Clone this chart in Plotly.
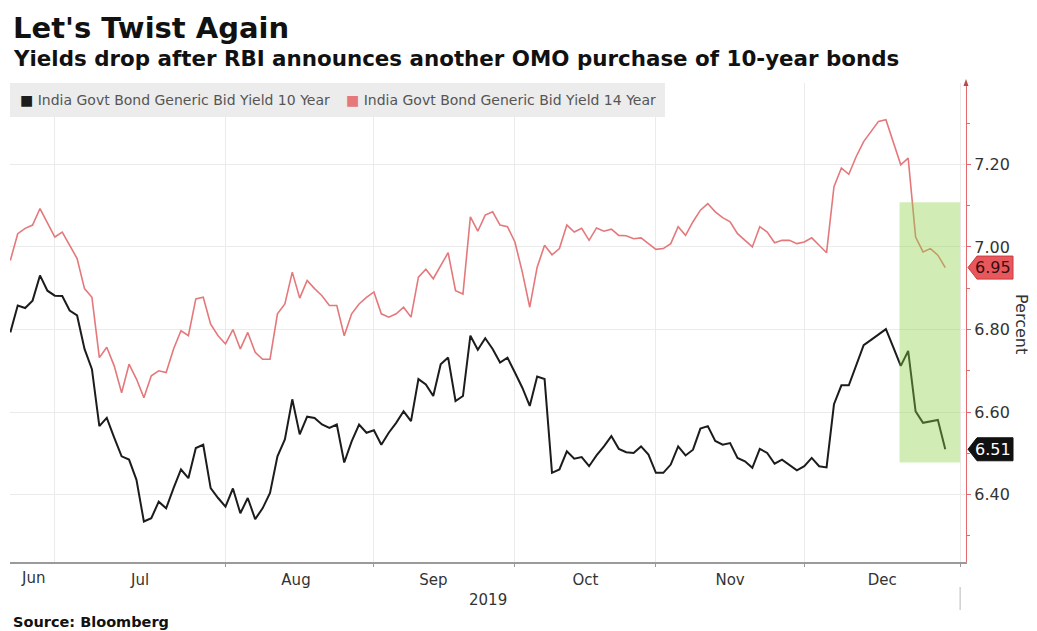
import pandas as pd
import plotly.graph_objects as go

# ---------------------------------------------------------------- data
# Indian bond-market holidays inside the window (no quotes on these days)
HOLIDAYS = ["2019-08-12", "2019-08-15", "2019-09-02", "2019-09-10",
            "2019-10-02", "2019-10-08", "2019-10-21", "2019-10-28",
            "2019-11-12", "2019-12-25"]
START, END = "2019-06-21", "2019-12-30"

SERIES_10Y = "India Govt Bond Generic Bid Yield 10 Year"
SERIES_14Y = "India Govt Bond Generic Bid Yield 14 Year"

YIELD_10Y = [
    6.793, 6.858, 6.852, 6.870, 6.931, 6.894,                                   # Jun
    6.882, 6.881, 6.846, 6.834, 6.753, 6.704, 6.566, 6.586, 6.538, 6.493,
    6.485, 6.436, 6.335, 6.343, 6.383, 6.367, 6.416, 6.461, 6.440, 6.513,
    6.521, 6.416, 6.392,                                                        # Jul
    6.371, 6.415, 6.355, 6.392, 6.341, 6.367, 6.404, 6.493, 6.534, 6.631,
    6.546, 6.589, 6.586, 6.570, 6.562, 6.570, 6.478, 6.529, 6.570, 6.550,       # Aug
    6.556, 6.521, 6.550, 6.574, 6.602, 6.578, 6.680, 6.667, 6.639, 6.716,
    6.732, 6.627, 6.639, 6.785, 6.751, 6.779, 6.753, 6.720, 6.732,              # Sep
    6.696, 6.659, 6.615, 6.686, 6.680, 6.453, 6.461, 6.505, 6.487, 6.491,
    6.469, 6.495, 6.517, 6.542, 6.511, 6.503, 6.501, 6.517, 6.497,              # Oct
    6.453, 6.453, 6.473, 6.517, 6.495, 6.509, 6.560, 6.566, 6.530, 6.521,
    6.525, 6.489, 6.481, 6.465, 6.511, 6.501, 6.475, 6.485, 6.473, 6.459,       # Nov
    6.469, 6.489, 6.469, 6.466, 6.619, 6.665, 6.665, 6.712, 6.762, 6.775,
    6.789, 6.801, 6.757, 6.712, 6.748, 6.602, 6.574, 6.578, 6.581, 6.51,        # Dec
]

YIELD_14Y = [
    6.967, 7.032, 7.045, 7.053, 7.093, 7.060,                                   # Jun
    7.024, 7.036, 7.004, 6.972, 6.899, 6.878, 6.732, 6.757, 6.712, 6.647,
    6.716, 6.680, 6.635, 6.688, 6.700, 6.696, 6.753, 6.797, 6.785, 6.874,
    6.878, 6.813, 6.785,                                                        # Jul
    6.765, 6.800, 6.753, 6.793, 6.745, 6.728, 6.728, 6.838, 6.862, 6.939,
    6.876, 6.919, 6.899, 6.882, 6.858, 6.858, 6.785, 6.838, 6.862, 6.878,       # Aug
    6.891, 6.838, 6.830, 6.838, 6.854, 6.830, 6.927, 6.946, 6.923, 6.955,
    6.986, 6.894, 6.886, 7.073, 7.038, 7.077, 7.085, 7.053, 7.049,              # Sep
    7.012, 6.939, 6.854, 6.951, 7.004, 6.981, 6.996, 7.053, 7.036, 7.045,
    7.016, 7.046, 7.038, 7.043, 7.028, 7.027, 7.020, 7.022, 7.008,              # Oct
    6.994, 6.996, 7.008, 7.049, 7.028, 7.061, 7.089, 7.105, 7.085, 7.071,
    7.061, 7.032, 7.016, 7.000, 7.049, 7.036, 7.010, 7.016, 7.016, 7.008,       # Nov
    7.012, 7.022, 7.004, 6.986, 7.146, 7.191, 7.176, 7.219, 7.255, 7.280,
    7.304, 7.308, 7.255, 7.199, 7.215, 7.024, 6.988, 6.996, 6.980, 6.95,        # Dec
]

# highlighted window after the OMO announcement
HIGHLIGHT_X = ("2019-12-18 20:00", "2020-01-01 00:00")
HIGHLIGHT_Y = (6.478, 7.108)

dates = pd.bdate_range(START, END, freq="C", holidays=HOLIDAYS)
assert len(dates) == len(YIELD_10Y) == len(YIELD_14Y)

# ---------------------------------------------------------------- styling
BLACK = "#1c1c1c"
RED = "#e4787b"
RED_AXIS = "#e26a6e"
GRID = "#ebebeb"
TEXT = "#333333"
FONT = "DejaVu Sans"
Y_RANGE = (6.237, 7.397)

W, H = 1037, 631
PLOT_L, PLOT_R, PLOT_T, PLOT_B = 10, 966, 83, 562


def px_x(px):
    return (px - PLOT_L) / (PLOT_R - PLOT_L)


def px_y(py):
    return (PLOT_B - py) / (PLOT_B - PLOT_T)


fig = go.Figure()
fig.add_trace(go.Scatter(x=dates, y=YIELD_14Y, mode="lines", name=SERIES_14Y,
                         line=dict(color=RED, width=1.6), showlegend=False))
fig.add_trace(go.Scatter(x=dates, y=YIELD_10Y, mode="lines", name=SERIES_10Y,
                         line=dict(color=BLACK, width=2), showlegend=False))

shapes = []
# grey legend strip
shapes.append(dict(type="rect", xref="paper", yref="paper",
                   x0=0, x1=px_x(665), y0=px_y(117), y1=1,
                   fillcolor="#ececec", line=dict(width=0), layer="above"))
# translucent highlight over the last sessions
shapes.append(dict(type="rect", xref="x", yref="y",
                   x0=HIGHLIGHT_X[0], x1=HIGHLIGHT_X[1],
                   y0=HIGHLIGHT_Y[0], y1=HIGHLIGHT_Y[1],
                   fillcolor="rgba(140,210,70,0.40)", line=dict(width=0),
                   layer="above"))
# year separator under the axis
shapes.append(dict(type="line", xref="x", yref="paper",
                   x0="2020-01-01", x1="2020-01-01",
                   y0=px_y(587), y1=px_y(610),
                   line=dict(color="#c4c4c4", width=1.2)))
# small arrow cap on top of the value axis
shapes.append(dict(type="path", xref="paper", yref="paper",
                   path=f"M {px_x(966)},{px_y(79)} L {px_x(963.5)},{px_y(86)} "
                        f"L {px_x(968.5)},{px_y(86)} Z",
                   fillcolor="#b84a4d", line=dict(width=0)))

# last-value tags on the right axis
half_h = 11.5 / (PLOT_B - PLOT_T) * (Y_RANGE[1] - Y_RANGE[0])
tag_tip, tag_shoulder, tag_end = px_x(968), px_x(977), px_x(1013)


def tag_path(v):
    return (f"M {tag_tip},{v} L {tag_shoulder},{v + half_h} L {tag_end},{v + half_h} "
            f"L {tag_end},{v - half_h} L {tag_shoulder},{v - half_h} Z")


last14, last10 = YIELD_14Y[-1], YIELD_10Y[-1]
shapes.append(dict(type="path", xref="paper", yref="y", path=tag_path(last14),
                   fillcolor="#e8575b", line=dict(color="#c83c40", width=1)))
shapes.append(dict(type="path", xref="paper", yref="y", path=tag_path(last10),
                   fillcolor="#111111", line=dict(color="#111111", width=1)))

annotations = [
    dict(text="<b>Let's Twist Again</b>", x=px_x(11), y=px_y(27.5),
         xanchor="left", yanchor="middle", font=dict(size=29, color="#111")),
    dict(text="<b>Yields drop after RBI announces another OMO purchase of 10-year bonds</b>",
         x=px_x(11), y=px_y(59), xanchor="left", yanchor="middle",
         font=dict(size=21.4, color="#111")),
    dict(text=f"<span style='color:{BLACK}'>■</span> {SERIES_10Y}",
         x=px_x(18), y=px_y(100), xanchor="left", yanchor="middle",
         font=dict(size=14, color="#555")),
    dict(text=f"<span style='color:{RED}'>■</span> {SERIES_14Y}",
         x=px_x(344), y=px_y(100), xanchor="left", yanchor="middle",
         font=dict(size=14, color="#555")),
    dict(text="Jun", xref="x", x="2019-06-26", y=px_y(578),
         xanchor="center", yanchor="middle", font=dict(size=15, color=TEXT)),
    dict(text="2019", x=0.5, y=px_y(600), xanchor="center", yanchor="middle",
         font=dict(size=15, color=TEXT)),
    dict(text="<b>Source: Bloomberg</b>", x=px_x(11), y=px_y(622),
         xanchor="left", yanchor="middle", font=dict(size=14.5, color="#111")),
    dict(text="Percent", x=px_x(1022), y=px_y(324), textangle=90,
         xanchor="center", yanchor="middle", font=dict(size=16, color=TEXT)),
    dict(text=f"{last14:.2f}", x=(tag_shoulder + tag_end) / 2 - 0.002, yref="y", y=last14,
         xanchor="center", yanchor="middle", font=dict(size=16, color="#3a0d0e")),
    dict(text=f"{last10:.2f}", x=(tag_shoulder + tag_end) / 2 - 0.002, yref="y", y=last10,
         xanchor="center", yanchor="middle", font=dict(size=16, color="#ffffff")),
]
for a in annotations:
    a.setdefault("xref", "paper")
    a.setdefault("yref", "paper")
    a["showarrow"] = False

fig.update_layout(
    width=W, height=H,
    margin=dict(l=PLOT_L, r=W - PLOT_R, t=PLOT_T, b=H - PLOT_B),
    paper_bgcolor="white", plot_bgcolor="white",
    font=dict(family=FONT, color=TEXT),
    showlegend=False,
    shapes=shapes,
    annotations=annotations,
    xaxis=dict(
        type="date",
        range=["2019-06-20 23:00", "2020-01-01 19:00"],
        rangebreaks=[dict(bounds=["sat", "mon"]), dict(values=HOLIDAYS)],
        tick0="2019-06-01", dtick="M1", tickformat="%b",
        ticklabelmode="period",
        showgrid=True, gridcolor=GRID, gridwidth=1,
        showline=True, linecolor="#9a9a9a", linewidth=1.5,
        ticks="outside", ticklen=3, tickcolor="#9a9a9a",
        tickfont=dict(size=15, color=TEXT),
        zeroline=False, fixedrange=True,
    ),
    yaxis=dict(
        side="right",
        range=list(Y_RANGE),
        tick0=6.4, dtick=0.2, tickformat=".2f",
        showgrid=True, gridcolor=GRID, gridwidth=1,
        showline=True, linecolor=RED_AXIS, linewidth=1.3,
        ticks="outside", ticklen=4, tickcolor=RED_AXIS,
        minor=dict(dtick=0.1, ticks="outside", ticklen=3, tickcolor=RED_AXIS, showgrid=False),
        tickfont=dict(size=16, color=TEXT),
        zeroline=False, fixedrange=True,
    ),
)

fig.write_html("out.html")
